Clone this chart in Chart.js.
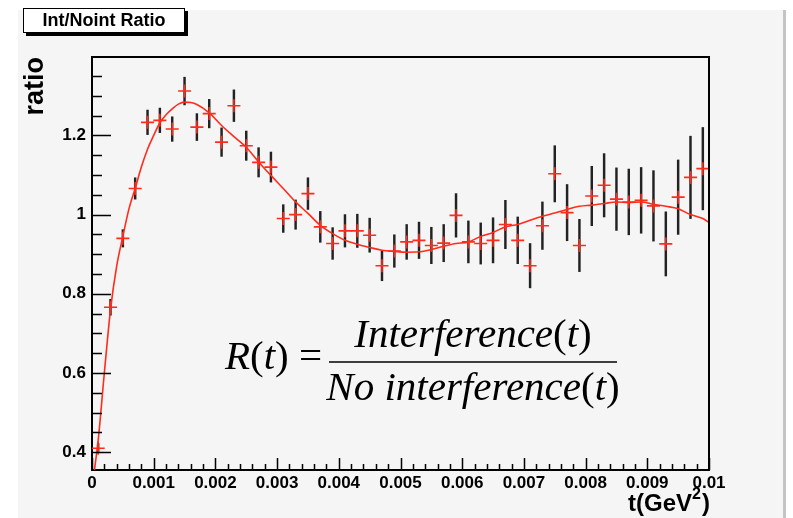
<!DOCTYPE html>
<html>
<head>
<meta charset="utf-8">
<script src="https://cdn.jsdelivr.net/npm/chart.js@4.4.0/dist/chart.umd.min.js"></script>
<style>
  html, body { margin: 0; padding: 0; background: #fff; }
  canvas { display: block; }
</style>
</head>
<body>
<canvas id="myChart" width="793" height="518"></canvas>
<script>
// bin centres, t in GeV^2
const binCenters = [
  0.0001, 0.0003, 0.0005, 0.0007, 0.0009, 0.0011, 0.0013, 0.0015, 0.0017, 0.0019,
  0.0021, 0.0023, 0.0025, 0.0027, 0.0029, 0.0031, 0.0033, 0.0035, 0.0037, 0.0039,
  0.0041, 0.0043, 0.0045, 0.0047, 0.0049, 0.0051, 0.0053, 0.0055, 0.0057, 0.0059,
  0.0061, 0.0063, 0.0065, 0.0067, 0.0069, 0.0071, 0.0073, 0.0075, 0.0077, 0.0079,
  0.0081, 0.0083, 0.0085, 0.0087, 0.0089, 0.0091, 0.0093, 0.0095, 0.0097, 0.0099
];
const ratioValues = [
  0.41, 0.766, 0.94, 1.066, 1.233, 1.238, 1.216, 1.312, 1.221, 1.255,
  1.183, 1.275, 1.174, 1.132, 1.12, 0.99, 1.0, 1.053, 0.969, 0.927,
  0.959, 0.959, 0.948, 0.871, 0.908, 0.931, 0.935, 0.922, 0.928, 0.998,
  0.931, 0.927, 0.935, 0.975, 0.935, 0.871, 0.972, 1.103, 1.005, 0.922,
  1.047, 1.074, 1.039, 1.032, 1.036, 1.022, 0.926, 1.044, 1.094, 1.116
];
const ratioErrors = [
  0.012, 0.02, 0.022, 0.027, 0.031, 0.031, 0.031, 0.035, 0.034, 0.036,
  0.036, 0.04, 0.037, 0.037, 0.038, 0.035, 0.037, 0.04, 0.039, 0.04,
  0.041, 0.042, 0.043, 0.038, 0.041, 0.044, 0.046, 0.046, 0.047, 0.055,
  0.053, 0.052, 0.057, 0.061, 0.059, 0.056, 0.06, 0.071, 0.071, 0.066,
  0.075, 0.08, 0.079, 0.083, 0.083, 0.089, 0.081, 0.094, 0.104, 0.104
];

// fitted curve
const fitT = [
  0.00004, 0.0001, 0.0002, 0.0003, 0.0004, 0.0005, 0.0006, 0.0007, 0.0008, 0.0009,
  0.001, 0.0011, 0.0012, 0.0013, 0.0014, 0.0015, 0.0016, 0.0017, 0.0019, 0.0021,
  0.0023, 0.0025, 0.0027, 0.0029, 0.0031, 0.0033, 0.0035, 0.0037, 0.0039, 0.0041,
  0.0043, 0.0045, 0.0047, 0.0049, 0.0051, 0.0053, 0.0055, 0.0057, 0.0059, 0.0061,
  0.0063, 0.0065, 0.0067, 0.0069, 0.0071, 0.0073, 0.0075, 0.0077, 0.0079, 0.0081,
  0.0083, 0.0085, 0.0087, 0.0089, 0.0091, 0.0093, 0.0095, 0.0097, 0.0099, 0.01
];
const fitRatio = [
  0.355, 0.43, 0.6, 0.76, 0.87, 0.945, 1.015, 1.066, 1.12, 1.165,
  1.2, 1.232, 1.252, 1.267, 1.279, 1.284, 1.283, 1.278, 1.257, 1.225,
  1.197, 1.17, 1.133, 1.099, 1.066, 1.032, 1.003, 0.973, 0.952, 0.935,
  0.925, 0.917, 0.91, 0.907, 0.905, 0.906, 0.912, 0.92, 0.927, 0.931,
  0.945, 0.955, 0.969, 0.975, 0.986, 0.996, 1.004, 1.013, 1.021, 1.024,
  1.028, 1.032, 1.03, 1.032, 1.026, 1.021, 1.015, 1.0, 0.99, 0.98
];

const xTickValues = [0, 0.001, 0.002, 0.003, 0.004, 0.005, 0.006, 0.007, 0.008, 0.009, 0.01];
const xTickLabels = ['0', '0.001', '0.002', '0.003', '0.004', '0.005', '0.006', '0.007', '0.008', '0.009', '0.01'];
const yTickValues = [0.4, 0.6, 0.8, 1, 1.2];
const yTickLabels = ['0.4', '0.6', '0.8', '1', '1.2'];
const xMinorStep = 0.0002;
const yMinorStep = 0.05;

const plotTitle = 'Int/Noint Ratio';
const yTitle = 'ratio';
const red = '#ff2b1c';

const crosses = binCenters.map((t, i) => ({ x: t, y: ratioValues[i] }));
const errorBars = binCenters.map((t, i) => ({ x: t, y: [ratioValues[i] - ratioErrors[i], ratioValues[i] + ratioErrors[i]] }));
const fitLine = fitT.map((t, i) => ({ x: t, y: fitRatio[i] }));

const canvasBack = {
  id: 'canvasBack',
  beforeDraw(chart) {
    const ctx = chart.ctx;
    ctx.save();
    ctx.fillStyle = '#ffffff';
    ctx.fillRect(0, 0, chart.width, chart.height);
    ctx.fillStyle = '#f5f5f5';
    ctx.fillRect(18, 10, 765, chart.height - 10);
    ctx.fillStyle = '#c4c4c4';
    ctx.fillRect(783, 10, 3, chart.height - 10);
    ctx.restore();
  }
};

// ROOT style frame: inward ticks, box round the plot, title box, formula
const rootDecor = {
  id: 'rootDecor',
  afterDraw(chart) {
    const { ctx, chartArea: a, scales: { x, y } } = chart;
    ctx.save();
    ctx.strokeStyle = '#000';
    ctx.lineWidth = 2;
    ctx.beginPath();
    ctx.moveTo(a.left, a.top);
    ctx.lineTo(a.right, a.top);
    ctx.lineTo(a.right, a.bottom);
    ctx.stroke();

    ctx.lineWidth = 1.5;
    ctx.beginPath();
    const nx = Math.round((x.max - x.min) / xMinorStep);
    for (let i = 0; i <= nx; i++) {
      const v = x.min + i * xMinorStep;
      const px = Math.round(x.getPixelForValue(v)) + 0.5;
      const len = i % 5 === 0 ? 12 : 6;
      ctx.moveTo(px, a.bottom);
      ctx.lineTo(px, a.bottom - len);
    }
    const first = Math.ceil(y.min / yMinorStep - 1e-6);
    const last = Math.floor(y.max / yMinorStep + 1e-6);
    for (let k = first; k <= last; k++) {
      const v = k * yMinorStep;
      const py = Math.round(y.getPixelForValue(v)) + 0.5;
      const len = k % 4 === 0 ? 19 : 10;
      ctx.moveTo(a.left, py);
      ctx.lineTo(a.left + len, py);
    }
    ctx.stroke();

    // title box
    ctx.fillStyle = '#000';
    ctx.fillRect(26, 11, 162, 25);
    ctx.fillStyle = '#fff';
    ctx.fillRect(23, 8, 162, 25);
    ctx.lineWidth = 1;
    ctx.strokeRect(23.5, 8.5, 161, 24);
    ctx.fillStyle = '#000';
    ctx.font = 'bold 18px "Liberation Sans", Arial, sans-serif';
    ctx.textAlign = 'center';
    ctx.textBaseline = 'middle';
    ctx.fillText(plotTitle, 104, 21);

    // x axis title with superscript
    ctx.textAlign = 'left';
    ctx.textBaseline = 'alphabetic';
    const big = 'bold 24px "Liberation Sans", Arial, sans-serif';
    const small = 'bold 16px "Liberation Sans", Arial, sans-serif';
    ctx.font = big;
    const w1 = ctx.measureText('t(GeV').width;
    const w3 = ctx.measureText(')').width;
    ctx.font = small;
    const w2 = ctx.measureText('2').width;
    const tx = a.right - (w1 + w2 + w3);
    const base = 511;
    ctx.font = big;
    ctx.fillText('t(GeV', tx, base);
    ctx.font = small;
    ctx.fillText('2', tx + w1, base - 12);
    ctx.font = big;
    ctx.fillText(')', tx + w1 + w2 + 1, base);

    // formula
    const serif = (it) => (it ? 'italic ' : '') + '41px "Liberation Serif", "Times New Roman", serif';
    const drawPieces = (pieces, startX, baseY, centerX) => {
      let total = 0;
      pieces.forEach(p => { ctx.font = serif(p[1]); total += ctx.measureText(p[0]).width; });
      let cx = centerX !== undefined ? centerX - total / 2 : startX;
      pieces.forEach(p => {
        ctx.font = serif(p[1]);
        ctx.fillText(p[0], cx, baseY);
        cx += ctx.measureText(p[0]).width;
      });
    };
    drawPieces([['R', true], ['(', false], ['t', true], [')', false], [' = ', false]], 225, 369);
    drawPieces([['Interference', true], ['(', false], ['t', true], [')', false]], 0, 347, 473);
    drawPieces([['No interference', true], ['(', false], ['t', true], [')', false]], 0, 400, 473);
    ctx.lineWidth = 1.5;
    ctx.beginPath();
    ctx.moveTo(329, 362);
    ctx.lineTo(617, 362);
    ctx.stroke();
    ctx.restore();
  }
};

const ctx = document.getElementById('myChart').getContext('2d');
new Chart(ctx, {
  type: 'bar',
  data: {
    datasets: [
      {
        type: 'line',
        data: crosses,
        showLine: false,
        pointStyle: 'cross',
        pointRadius: 6.5,
        pointBorderWidth: 1.6,
        borderColor: red,
        backgroundColor: red,
        order: 0
      },
      {
        type: 'line',
        data: fitLine,
        borderColor: red,
        borderWidth: 1.6,
        pointRadius: 0,
        cubicInterpolationMode: 'monotone',
        order: 1
      },
      {
        type: 'bar',
        data: errorBars,
        backgroundColor: '#222222',
        barThickness: 1.8,
        order: 2
      }
    ]
  },
  options: {
    responsive: false,
    animation: false,
    devicePixelRatio: 1,
    events: [],
    layout: { padding: { left: 0, top: 57, right: 84, bottom: 0 } },
    plugins: { legend: { display: false }, tooltip: { enabled: false } },
    scales: {
      x: {
        type: 'linear',
        min: 0,
        max: 0.01,
        offset: false,
        grid: { display: false, drawTicks: false },
        border: { display: true, color: '#000', width: 2 },
        ticks: {
          padding: 3,
          color: '#000',
          font: { family: '"Liberation Sans", Arial, sans-serif', size: 17, weight: 'bold' },
          maxRotation: 0,
          autoSkip: false,
          callback: (v) => {
            const i = xTickValues.findIndex(t => Math.abs(t - v) < 1e-9);
            return i >= 0 ? xTickLabels[i] : '';
          }
        },
        afterBuildTicks: (scale) => { scale.ticks = xTickValues.map(v => ({ value: v })); },
        afterFit: (scale) => { scale.height = 48; }
      },
      y: {
        type: 'linear',
        min: 0.355,
        max: 1.398,
        grid: { display: false, drawTicks: false },
        border: { display: true, color: '#000', width: 2 },
        title: {
          display: true,
          text: yTitle,
          align: 'end',
          color: '#000',
          font: { family: '"Liberation Sans", Arial, sans-serif', size: 27, weight: 'bold' },
          padding: { top: 19, bottom: 0 }
        },
        ticks: {
          padding: 6,
          color: '#000',
          font: { family: '"Liberation Sans", Arial, sans-serif', size: 17, weight: 'bold' },
          callback: (v) => {
            const i = yTickValues.findIndex(t => Math.abs(t - v) < 1e-9);
            return i >= 0 ? yTickLabels[i] : '';
          }
        },
        afterBuildTicks: (scale) => { scale.ticks = yTickValues.map(v => ({ value: v })); },
        afterFit: (scale) => { scale.width = 92; }
      }
    }
  },
  plugins: [canvasBack, rootDecor]
});
</script>
</body>
</html>
